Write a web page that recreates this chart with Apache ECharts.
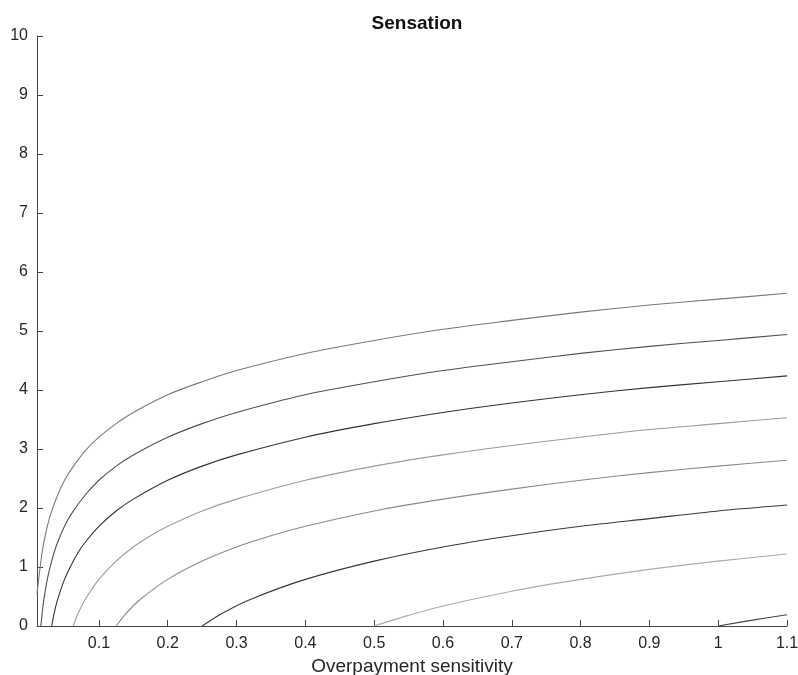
<!DOCTYPE html>
<html>
<head>
<meta charset="utf-8">
<title>Sensation</title>
<script src="https://cdn.jsdelivr.net/npm/echarts@6/dist/echarts.min.js"></script>
<style>
  html, body { margin: 0; padding: 0; background: #fff; }
  #main { width: 798px; height: 675px; }
</style>
</head>
<body>
<div id="main"></div>
<script>
// tick labels
const xTicks = [0.1, 0.2, 0.3, 0.4, 0.5, 0.6, 0.7, 0.8, 0.9, 1, 1.1];

// curves, top to bottom, as [x, y]
const curve1 = [[0.01,0.55],[0.0125,0.8],[0.015,1.04],[0.0175,1.25],[0.02,1.42],[0.025,1.69],[0.03,1.9],[0.04,2.22],[0.05,2.47],[0.06,2.66],[0.08,2.97],[0.1,3.2],[0.125,3.43],[0.15,3.62],[0.2,3.92],[0.25,4.14],[0.3,4.33],[0.4,4.62],[0.5,4.84],[0.6,5.03],[0.7,5.18],[0.8,5.32],[0.9,5.44],[1.0,5.54],[1.1,5.64]];
const curve2 = [[0.0156,0],[0.0175,0.22],[0.02,0.45],[0.025,0.79],[0.03,1.04],[0.035,1.25],[0.04,1.42],[0.05,1.69],[0.06,1.9],[0.08,2.22],[0.1,2.47],[0.125,2.71],[0.15,2.9],[0.2,3.2],[0.25,3.43],[0.3,3.62],[0.4,3.92],[0.5,4.14],[0.6,4.33],[0.7,4.48],[0.8,4.62],[0.9,4.74],[1.0,4.84],[1.1,4.94]];
const curve3 = [[0.0313,0],[0.035,0.22],[0.04,0.45],[0.05,0.79],[0.06,1.04],[0.07,1.25],[0.08,1.42],[0.1,1.69],[0.125,1.95],[0.15,2.15],[0.2,2.47],[0.25,2.71],[0.3,2.9],[0.4,3.2],[0.5,3.43],[0.6,3.62],[0.7,3.78],[0.8,3.92],[0.9,4.04],[1.0,4.14],[1.1,4.24]];
const curve4 = [[0.0625,0],[0.07,0.22],[0.08,0.45],[0.1,0.79],[0.125,1.1],[0.15,1.34],[0.175,1.53],[0.2,1.69],[0.25,1.95],[0.3,2.15],[0.4,2.47],[0.5,2.71],[0.6,2.9],[0.7,3.06],[0.8,3.2],[0.9,3.33],[1.0,3.43],[1.1,3.53]];
const curve5 = [[0.125,0],[0.14,0.22],[0.16,0.45],[0.2,0.79],[0.25,1.1],[0.3,1.34],[0.35,1.53],[0.4,1.69],[0.5,1.95],[0.6,2.15],[0.7,2.32],[0.8,2.47],[0.9,2.6],[1.0,2.71],[1.1,2.81]];
const curve6 = [[0.25,0],[0.28,0.22],[0.32,0.45],[0.4,0.79],[0.5,1.1],[0.6,1.34],[0.7,1.53],[0.8,1.69],[0.9,1.82],[1.0,1.95],[1.1,2.05]];
const curve7 = [[0.5,0],[0.55,0.18],[0.6,0.34],[0.7,0.59],[0.8,0.79],[0.9,0.96],[1.0,1.1],[1.1,1.22]];
const curve8 = [[1.0,0],[1.05,0.1],[1.1,0.19]];

const curves = [curve1, curve2, curve3, curve4, curve5, curve6, curve7, curve8];
const curveColors = ['#7a7a7a', '#505050', '#333333', '#9c9c9c', '#8a8a8a', '#383838', '#ababab', '#454545'];

const axisColor = '#444';
const textColor = '#262626';
const font = 'Liberation Sans, Arial, sans-serif';

const chart = echarts.init(document.getElementById('main'));

chart.setOption({
  animation: false,
  backgroundColor: '#fff',
  title: {
    text: 'Sensation',
    left: 412,
    top: 9,
    textAlign: 'center',
    textStyle: { fontFamily: font, fontSize: 19, fontWeight: 'bold', color: '#111' }
  },
  grid: { left: 37, right: 11, top: 36, bottom: 49, containLabel: false, outerBoundsMode: 'none' },
  xAxis: {
    type: 'value',
    min: 0.01,
    max: 1.1,
    name: 'Overpayment sensitivity',
    nameLocation: 'middle',
    nameGap: 29,
    nameTextStyle: { fontFamily: font, fontSize: 19, color: textColor },
    axisLine: { show: true, onZero: false, lineStyle: { color: axisColor, width: 1 } },
    axisTick: { show: true, inside: true, length: 6, customValues: xTicks, lineStyle: { color: axisColor } },
    axisLabel: {
      customValues: xTicks,
      margin: 10,
      fontFamily: font, fontSize: 16, color: textColor,
      formatter: v => String(Math.round(v * 10) / 10)
    },
    splitLine: { show: false }
  },
  yAxis: {
    type: 'value',
    min: 0,
    max: 10,
    interval: 1,
    axisLine: { show: true, lineStyle: { color: axisColor, width: 1 } },
    axisTick: { show: true, inside: true, length: 6, lineStyle: { color: axisColor } },
    axisLabel: { margin: 9, fontFamily: font, fontSize: 16, color: textColor },
    splitLine: { show: false }
  },
  series: curves.map((c, i) => ({
    type: 'line',
    data: c,
    showSymbol: false,
    smooth: 0.3,
    clip: true,
    lineStyle: { color: curveColors[i], width: 1.1 },
    emphasis: { disabled: true }
  }))
});
</script>
</body>
</html>
